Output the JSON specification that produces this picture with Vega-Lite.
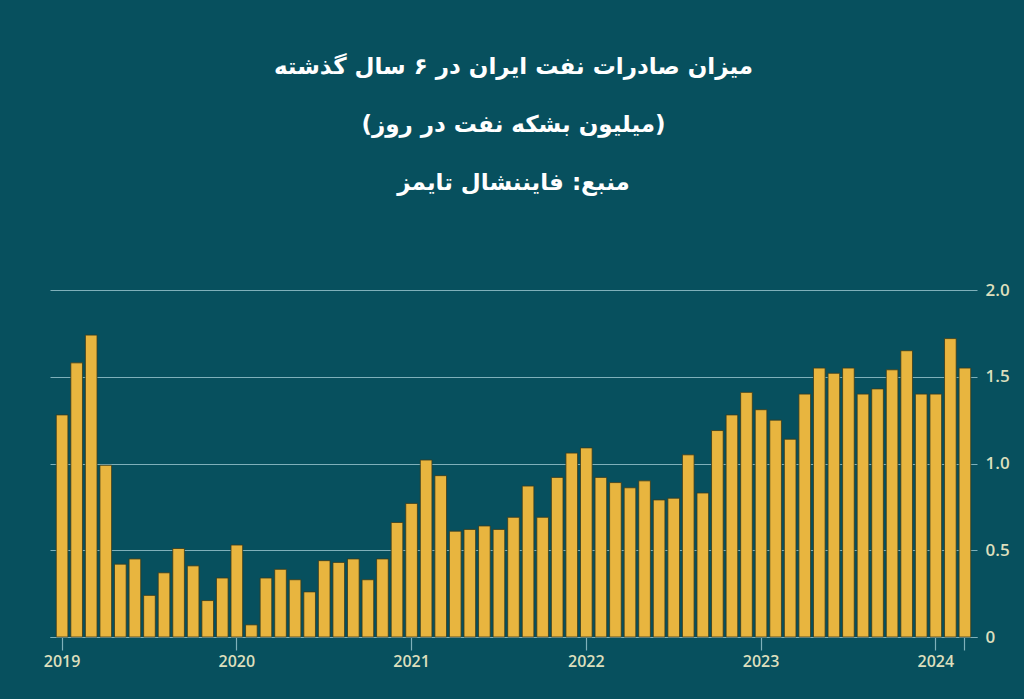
{
  "$schema": "https://vega.github.io/schema/vega-lite/v6.json",
  "autosize": {"type": "none"},
  "width": 927,
  "height": 347,
  "padding": {"left": 50, "top": 290, "right": 47, "bottom": 62},
  "background": "#07505e",
  "title": {
    "text": ["میزان صادرات نفت ایران در ۶ سال گذشته", "(میلیون بشکه نفت در روز)", "منبع: فایننشال تایمز"],
    "anchor": "middle",
    "frame": "group",
    "font": "DejaVu Sans",
    "fontSize": 23,
    "fontWeight": "bold",
    "color": "#ffffff",
    "lineHeight": 58,
    "offset": 86
  },
  "data": {
    "values": [
      {"month": "2019-01", "value": 1.28}, {"month": "2019-02", "value": 1.58}, {"month": "2019-03", "value": 1.74},
      {"month": "2019-04", "value": 0.99}, {"month": "2019-05", "value": 0.42}, {"month": "2019-06", "value": 0.45},
      {"month": "2019-07", "value": 0.24}, {"month": "2019-08", "value": 0.37}, {"month": "2019-09", "value": 0.51},
      {"month": "2019-10", "value": 0.41}, {"month": "2019-11", "value": 0.21}, {"month": "2019-12", "value": 0.34},
      {"month": "2020-01", "value": 0.53}, {"month": "2020-02", "value": 0.07}, {"month": "2020-03", "value": 0.34},
      {"month": "2020-04", "value": 0.39}, {"month": "2020-05", "value": 0.33}, {"month": "2020-06", "value": 0.26},
      {"month": "2020-07", "value": 0.44}, {"month": "2020-08", "value": 0.43}, {"month": "2020-09", "value": 0.45},
      {"month": "2020-10", "value": 0.33}, {"month": "2020-11", "value": 0.45}, {"month": "2020-12", "value": 0.66},
      {"month": "2021-01", "value": 0.77}, {"month": "2021-02", "value": 1.02}, {"month": "2021-03", "value": 0.93},
      {"month": "2021-04", "value": 0.61}, {"month": "2021-05", "value": 0.62}, {"month": "2021-06", "value": 0.64},
      {"month": "2021-07", "value": 0.62}, {"month": "2021-08", "value": 0.69}, {"month": "2021-09", "value": 0.87},
      {"month": "2021-10", "value": 0.69}, {"month": "2021-11", "value": 0.92}, {"month": "2021-12", "value": 1.06},
      {"month": "2022-01", "value": 1.09}, {"month": "2022-02", "value": 0.92}, {"month": "2022-03", "value": 0.89},
      {"month": "2022-04", "value": 0.86}, {"month": "2022-05", "value": 0.90}, {"month": "2022-06", "value": 0.79},
      {"month": "2022-07", "value": 0.80}, {"month": "2022-08", "value": 1.05}, {"month": "2022-09", "value": 0.83},
      {"month": "2022-10", "value": 1.19}, {"month": "2022-11", "value": 1.28}, {"month": "2022-12", "value": 1.41},
      {"month": "2023-01", "value": 1.31}, {"month": "2023-02", "value": 1.25}, {"month": "2023-03", "value": 1.14},
      {"month": "2023-04", "value": 1.40}, {"month": "2023-05", "value": 1.55}, {"month": "2023-06", "value": 1.52},
      {"month": "2023-07", "value": 1.55}, {"month": "2023-08", "value": 1.40}, {"month": "2023-09", "value": 1.43},
      {"month": "2023-10", "value": 1.54}, {"month": "2023-11", "value": 1.65}, {"month": "2023-12", "value": 1.40},
      {"month": "2024-01", "value": 1.40}, {"month": "2024-02", "value": 1.72}, {"month": "2024-03", "value": 1.55}
    ]
  },
  "mark": {"type": "bar", "color": "#e8b53f", "stroke": "#3a3a1c", "strokeWidth": 0.8},
  "encoding": {
    "x": {
      "field": "month",
      "type": "ordinal",
      "sort": null,
      "scale": {"paddingInner": 0.2, "paddingOuter": 0.43},
      "axis": {
        "title": null,
        "values": ["2019-01", "2020-01", "2021-01", "2022-01", "2023-01", "2024-01", "2024-03"],
        "labelExpr": "slice(datum.value, 5) == '01' ? slice(datum.value, 0, 4) : ''",
        "labelAngle": 0,
        "labelFont": "Open Sans",
        "labelFontSize": 16,
        "labelFontWeight": 600,
        "labelColor": "#dcdfbd",
        "labelPadding": 3,
        "tickSize": 13,
        "tickColor": "#7fb0ba",
        "tickWidth": 1.2,
        "domainColor": "#7fb0ba",
        "domainWidth": 1.2
      }
    },
    "y": {
      "field": "value",
      "type": "quantitative",
      "scale": {"domain": [0, 2], "nice": false},
      "axis": {
        "title": null,
        "orient": "right",
        "values": [0, 0.5, 1, 1.5, 2],
        "labelExpr": "datum.value == 0 ? '0' : format(datum.value, '.1f')",
        "labelFont": "Open Sans",
        "labelFontSize": 17,
        "labelFontWeight": 600,
        "labelColor": "#dcdfbd",
        "labelPadding": 8,
        "ticks": false,
        "domain": false,
        "grid": true,
        "gridColor": "#7fb0ba",
        "gridWidth": 1.2
      }
    }
  },
  "config": {"view": {"stroke": null}}
}
